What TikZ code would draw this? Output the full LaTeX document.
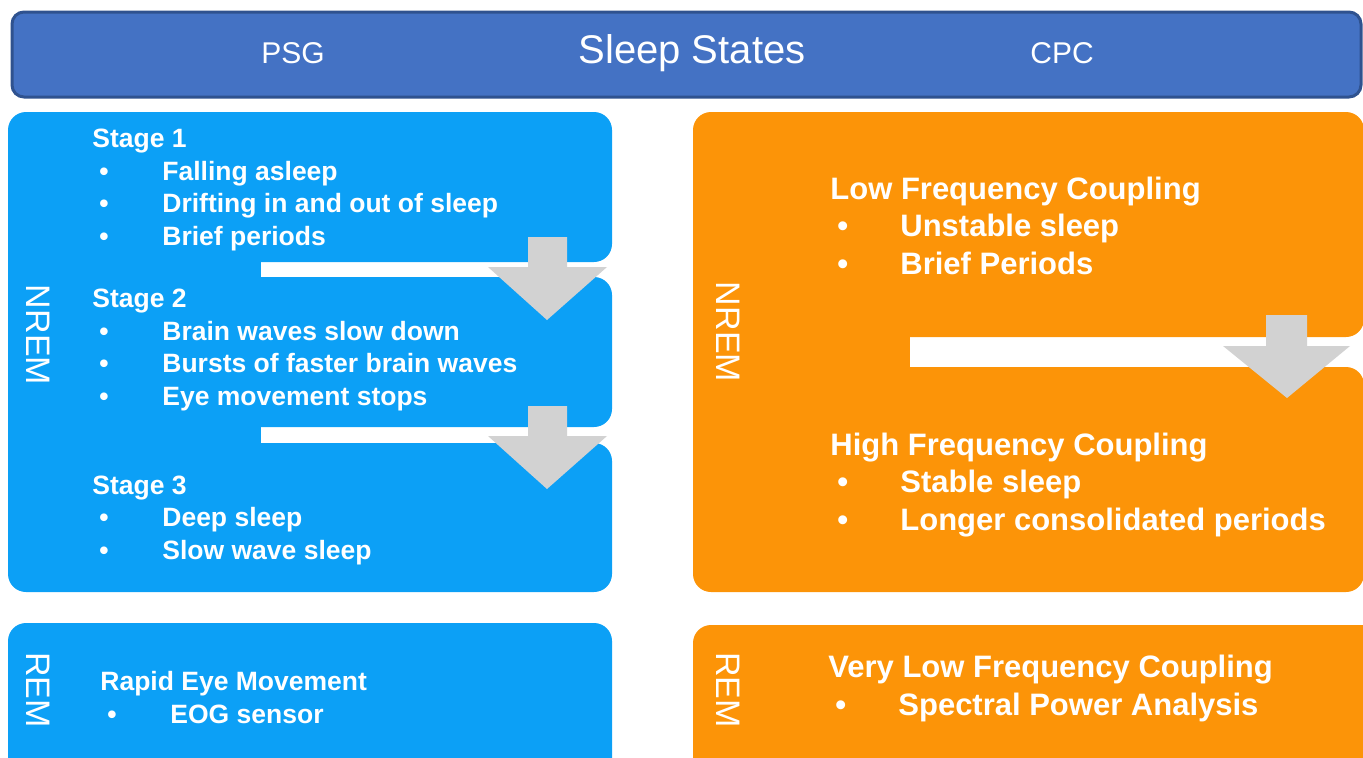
\documentclass[tikz,border=0pt]{standalone}
\usepackage{fontspec}
\setmainfont{Liberation Sans}
\usepackage{xcolor}
\usetikzlibrary{positioning}

\definecolor{psgblue}{RGB}{12,160,246}
\definecolor{cpcorange}{RGB}{252,148,8}
\definecolor{barblue}{RGB}{68,114,196}
\definecolor{barborder}{RGB}{47,82,143}
\definecolor{arrowgray}{RGB}{210,210,210}

% bullet with the indent used in all the lists
\newcommand{\bul}{\hspace*{3.5pt}\makebox[31.5pt][l]{\textbullet}}

\begin{document}
\begin{tikzpicture}[
    x=0.5pt, y=-0.5pt,
    header/.style={fill=barblue, draw=barborder, line width=1.5pt, rounded corners=6pt},
    psgbox/.style={fill=psgblue, rounded corners=9pt},
    cpcbox/.style={fill=cpcorange, rounded corners=9pt},
    downarrow/.style={fill=arrowgray},
    headtext/.style={text=white, inner sep=0pt},
    side/.style={text=white, font=\fontsize{17}{20}\selectfont, rotate=-90, inner sep=0pt},
    psgtext/.style={text=white, font=\bfseries\fontsize{13.25}{16.2}\selectfont, align=left, anchor=base west, inner sep=0pt},
    cpctext/.style={text=white, font=\bfseries\fontsize{15.5}{18.7}\selectfont, align=left, anchor=base west, inner sep=0pt}
]
\useasboundingbox (0,0) rectangle (1363,757);

% title bar
\draw[header] (12,12) rectangle (1361,97);
\node (psg) [headtext, font=\fontsize{15}{18}\selectfont] at (293,53) {PSG};
\node (title) [headtext, font=\fontsize{20}{24}\selectfont] at (692,53) {Sleep States};
\node (cpc) [headtext, font=\fontsize{15}{18}\selectfont] at (1062,53) {CPC};

% PSG side, NREM
\fill[psgbox] (8,112) rectangle (612,262);
\fill[psgbox] (8,277) rectangle (612,427);
\fill[psgbox] (8,443) rectangle (612,592);
\fill[psgblue] (8,130) rectangle (261,575);
\foreach \top in {237,406}
    \fill[downarrow] (528,\top) -- (567,\top) -- (567,\top+30) -- (607,\top+30)
        -- (547,\top+83) -- (488,\top+30) -- (528,\top+30) -- cycle;

% text nodes sit on the baseline of their last line
\node (nremL) [side] at (38,335) {NREM};
\node (stage1) [psgtext] at (92,245) {Stage 1\\ \bul Falling asleep\\ \bul Drifting in and out of sleep\\ \bul Brief periods};
\node (stage2) [psgtext] at (92,405) {Stage 2\\ \bul Brain waves slow down\\ \bul Bursts of faster brain waves\\ \bul Eye movement stops};
\node (stage3) [psgtext] at (92,559) {Stage 3\\ \bul Deep sleep\\ \bul Slow wave sleep};

% PSG side, REM
\fill[psgbox] (8,623) rectangle (612,790);
\node (remL) [side] at (38,690) {REM};
\node (rapid) [psgtext] at (100,723) {Rapid Eye Movement\\ \bul EOG sensor};

% CPC side, NREM
\fill[cpcbox] (693,112) rectangle (1364,337);
\fill[cpcbox] (693,367) rectangle (1364,592);
\fill[cpcorange] (693,130) rectangle (910,575);
\fill[downarrow] (1266,315) -- (1307,315) -- (1307,346) -- (1350,346)
    -- (1287,398) -- (1223,346) -- (1266,346) -- cycle;

\node (nremR) [side] at (728,332) {NREM};
\node (low) [cpctext] at (830,274) {Low Frequency Coupling\\ \bul Unstable sleep\\ \bul Brief Periods};
\node (high) [cpctext] at (830,530) {High Frequency Coupling\\ \bul Stable sleep\\ \bul Longer consolidated periods};

% CPC side, REM
\fill[cpcbox] (693,625) rectangle (1380,790);
\node (remR) [side] at (728,690) {REM};
\node (verylow) [cpctext] at (828,715) {Very Low Frequency Coupling\\ \bul Spectral Power Analysis};

\end{tikzpicture}
\end{document}
